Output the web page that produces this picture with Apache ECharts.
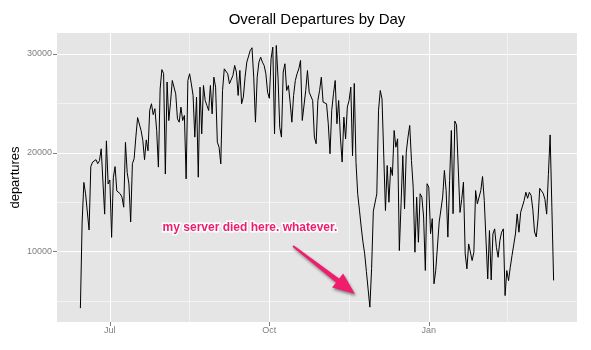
<!DOCTYPE html>
<html>
<head>
<meta charset="utf-8">
<script src="https://cdn.jsdelivr.net/npm/echarts@6/dist/echarts.min.js"></script>
<style>
html,body{margin:0;padding:0;background:#fff;}
#chart{width:591px;height:350px;}
</style>
</head>
<body>
<div id="chart"></div>
<script>
// ---- DATA ----
const title = 'Overall Departures by Day';
const yName = 'departures';
const startDate = [2012, 5, 14]; // first day of the series (UTC, month 0-based)
const departures = [
 4300,13000,17000,15850,15800,12200,18600,19050,18950,19300,
 18900,19200,20400,20600,13800,21200,16850,17250,11450,17500,
 18600,16150,16350,15850,15500,14500,21050,18000,16850,13000,
 18900,19400,21600,23550,23400,22250,21250,19300,21300,20200,
 24300,24950,23850,24450,22250,18550,26450,28400,28000,17850,
 27150,23250,25100,27300,27300,25950,23430,23090,24610,23260,
 23770,17360,27300,27980,26970,25790,21580,25620,17530,26630,
 21910,26800,25280,24780,24270,26800,23930,27640,26630,21070,
 20560,18880,26290,28480,28380,27980,26970,26970,27810,28820,
 28150,25790,28320,24950,25620,27640,29160,29160,30340,30610,
 27640,23090,27640,29160,29660,29160,28820,27980,26120,25500,
 29500,30670,21910,30840,27640,22580,21580,28150,28990,26290,
 26800,25110,23090,25790,27300,27980,28480,29320,23260,23260,
 26290,28310,26120,25960,25280,21580,20910,25280,26290,27640,
 25120,25120,24950,22930,19900,24270,25960,27300,22930,25280,
 21580,19060,23600,21410,24610,25280,26630,19700,27000,19000,
 15800,14200,12500,11000,9800,8000,6200,4400,8300,14100,
 14300,15850,24300,26290,25450,25450,14160,18710,15000,18540,
 17700,22250,20560,21410,10120,14840,19720,14330,20060,21580,
 22760,19220,16520,9950,15510,10960,15860,15520,13500,8110,
 16870,16530,11820,13340,6760,8110,8280,13000,13000,15520,
 18210,16190,11480,17200,22250,13840,23200,22830,22830,13970,
 15300,17030,9780,8270,10790,10960,9110,9950,16180,14840,
 14900,16180,17600,15170,15000,7250,12140,7150,11800,12310,
 10450,9440,11130,11970,12310,5570,8100,7080,8430,9610,
 9440,11800,13820,11970,13990,13990,15170,16010,15400,16000,
 15700,14300,12000,11500,13300,16400,16400,15900,15300,13800,
 17800,21800,14500,7100
];
const xMajorTicks = ['2012-07-01', '2012-10-01', '2013-01-01'];
const xMinorTicks = ['2012-08-16', '2012-11-16', '2013-02-15T12:00:00Z'];
const yMajorTicks = [10000, 20000, 30000];
const yMinorTicks = [5000, 15000, 25000];
const monthNames = ['Jan','Feb','Mar','Apr','May','Jun','Jul','Aug','Sep','Oct','Nov','Dec'];
const annotationText = 'my server died here. whatever.';

// ---- BUILD ----
const DAY = 86400000;
const t0 = Date.UTC(startDate[0], startDate[1], startDate[2]);
const seriesData = departures.map((v, i) => [t0 + i * DAY, v]);
const tEnd = t0 + (departures.length - 1) * DAY;
const xMin = t0 - 13.5 * DAY;
const xMax = tEnd + 13.5 * DAY;
const toTs = s => Date.parse(s.length === 10 ? s + 'T00:00:00Z' : s);

const chart = echarts.init(document.getElementById('chart'), null, {renderer: 'canvas'});
const font = '"Liberation Sans", Arial, Helvetica, sans-serif';
const pink = '#F01C6C';

const option = {
  animation: false,
  backgroundColor: '#ffffff',
  title: {
    text: title,
    left: 317, textAlign: 'center',
    top: 12, padding: 0,
    textStyle: {fontSize: 15, fontWeight: 'normal', color: '#000', fontFamily: font}
  },
  grid: {
    left: 57, right: 14, top: 33, bottom: 28,
    outerBoundsMode: 'none', containLabel: false,
    show: true, backgroundColor: '#E5E5E5', borderWidth: 0
  },
  xAxis: [{
    type: 'value', min: xMin, max: xMax,
    axisLine: {show: false},
    axisTick: {show: true, length: 4, lineStyle: {color: '#7f7f7f', width: 1}, customValues: xMajorTicks.map(toTs)},
    axisLabel: {customValues: xMajorTicks.map(toTs), color: '#7f7f7f', fontSize: 9, margin: 4, fontFamily: font,
      formatter: v => monthNames[new Date(v).getUTCMonth()]},
    splitLine: {show: true, lineStyle: {color: '#ffffff', width: 1}}
  }, {
    type: 'value', min: xMin, max: xMax, position: 'bottom',
    axisLine: {show: false},
    axisTick: {show: false, customValues: xMinorTicks.map(toTs)},
    axisLabel: {show: false, customValues: xMinorTicks.map(toTs)},
    splitLine: {show: true, lineStyle: {color: '#F2F2F2', width: 1}}
  }],
  yAxis: [{
    type: 'value', min: 2900, max: 32100,
    name: yName, nameLocation: 'middle', nameGap: 35, nameMoveOverlap: false,
    nameTextStyle: {color: '#000', fontSize: 13, fontFamily: font},
    axisLine: {show: false},
    axisTick: {show: true, length: 4, lineStyle: {color: '#7f7f7f', width: 1}, customValues: yMajorTicks},
    axisLabel: {customValues: yMajorTicks, color: '#7f7f7f', fontSize: 9, margin: 5, fontFamily: font,
      formatter: v => String(v)},
    splitLine: {show: true, lineStyle: {color: '#ffffff', width: 1}}
  }, {
    type: 'value', min: 2900, max: 32100, position: 'left',
    axisLine: {show: false},
    axisTick: {show: false, customValues: yMinorTicks},
    axisLabel: {show: false, customValues: yMinorTicks},
    splitLine: {show: true, lineStyle: {color: '#F2F2F2', width: 1}}
  }],
  series: [{
    type: 'line',
    xAxisIndex: 0, yAxisIndex: 0,
    data: seriesData,
    showSymbol: false,
    symbol: 'none',
    lineStyle: {color: '#000000', width: 1},
    z: 5
  }],
  graphic: [{
    type: 'polygon',
    z: 100,
    shape: {points: [[293.6,245.2],[339.1,278.5],[343.1,273.4],[355,294],[332.1,287.6],[336.1,282.5],[292.4,246.8]]},
    style: {fill: pink, shadowColor: 'rgba(0,0,0,0.45)', shadowBlur: 3, shadowOffsetX: 1, shadowOffsetY: 2}
  }, {
    type: 'text',
    z: 100,
    x: 250, y: 228,
    style: {
      text: annotationText,
      font: 'bold 12px ' + font,
      fill: pink, stroke: '#ffffff', lineWidth: 3,
      align: 'center', verticalAlign: 'middle',
      textAlign: 'center', textVerticalAlign: 'middle',
      shadowColor: 'rgba(0,0,0,0.45)', shadowBlur: 3, shadowOffsetX: 1, shadowOffsetY: 2
    }
  }]
};
chart.setOption(option);
</script>
</body>
</html>
